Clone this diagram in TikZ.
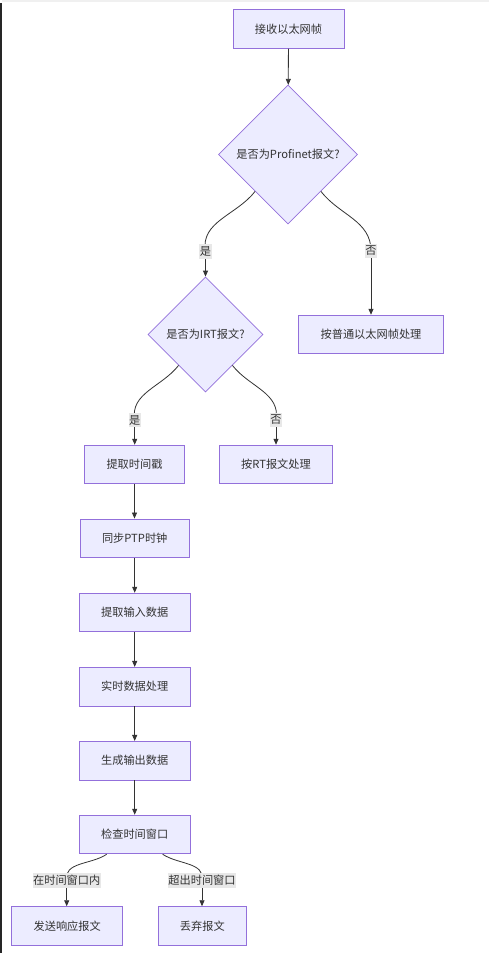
\documentclass[tikz,border=0pt]{standalone}
\usepackage{fontspec}
\setmainfont{Noto Sans CJK SC}
\usetikzlibrary{shapes.geometric,arrows.meta}
\definecolor{nfill}{HTML}{ECECFF}
\definecolor{nline}{HTML}{9370DB}
\definecolor{txt}{HTML}{333333}
\definecolor{lbg}{HTML}{E8E8E8}
\begin{document}
\begin{tikzpicture}[x=1pt,y=1pt,
  every node/.style={font=\fontsize{11.2}{13}\selectfont, text=txt},
  box/.style={draw=nline, fill=nfill, line width=0.8pt, minimum height=38.7pt, inner xsep=22pt, inner ysep=0pt},
  dia/.style={diamond, draw=nline, fill=nfill, line width=0.8pt, aspect=1, inner sep=0pt},
  lbl/.style={fill=lbg, inner xsep=0.5pt, inner ysep=2.5pt},
  arr/.style={draw=txt, line width=0.8pt, -{Triangle[length=6pt,width=5pt]}},
  ln/.style={draw=txt, line width=0.8pt}]
\useasboundingbox (0,0) rectangle (489,-953);
\fill[white] (0,0) rectangle (489,-953);
\fill[black!85] (0,-3) rectangle (2,-953);
\fill[gray!12] (2,0) rectangle (489,-1.5);

\node[box] (n1) at (288.5,-29) {接收以太网帧};
\node[dia, minimum size=139pt] (d1) at (288,-154.5) {是否为Profinet报文?};
\node[box] (n2) at (371,-334.5) {按普通以太网帧处理};
\node[dia, minimum size=115pt] (d2) at (205.5,-334.5) {是否为IRT报文?};
\node[box] (n3) at (134.5,-464.5) {提取时间戳};
\node[box] (n4) at (276,-464.5) {按RT报文处理};
\node[box] (n5) at (134.7,-538.3) {同步PTP时钟};
\node[box] (n6) at (134.7,-612.5) {提取输入数据};
\node[box] (n7) at (134.7,-686.7) {实时数据处理};
\node[box] (n8) at (134.7,-760.7) {生成输出数据};
\node[box] (n9) at (134.7,-834.5) {检查时间窗口};
\node[box] (n10) at (67.2,-926) {发送响应报文};
\node[box] (n11) at (202.3,-926) {丢弃报文};

\coordinate (c1) at (205.5,-251.5);
\coordinate (c2) at (371,-251);
\coordinate (c3) at (134.7,-420);
\coordinate (c4) at (276,-420);
\coordinate (c5) at (66.7,-880.3);
\coordinate (c6) at (202,-880.3);

\draw[arr] (n1) -- (d1);
\draw[ln] ([shift={(2pt,-2pt)}]d1.south west) to[out=-128,in=100] (c1);
\draw[arr] (c1) -- (c1 |- d2.north);
\draw[ln] ([shift={(-2pt,-2pt)}]d1.south east) to[out=-52,in=90] (c2);
\draw[arr] (c2) -- (c2 |- n2.north);
\draw[ln] ([shift={(2pt,-2pt)}]d2.south west) to[out=-128,in=100] (c3);
\draw[arr] (c3) -- (c3 |- n3.north);
\draw[ln] ([shift={(-2pt,-2pt)}]d2.south east) to[out=-52,in=80] (c4);
\draw[arr] (c4) -- (c4 |- n4.north);
\draw[arr] (n3) -- (n3 |- n5.north);
\draw[arr] (n5) -- (n6);
\draw[arr] (n6) -- (n7);
\draw[arr] (n7) -- (n8);
\draw[arr] (n8) -- (n9);
\draw[ln] ([xshift=-28pt]n9.south) to[out=-146,in=100] (c5);
\draw[arr] (c5) -- (c5 |- n10.north);
\draw[ln] ([xshift=28pt]n9.south) to[out=-34,in=80] (c6);
\draw[arr] (c6) -- (c6 |- n11.north);

\node[lbl] (l1) at (c1) {是};
\node[lbl] (l2) at (c2) {否};
\node[lbl] (l3) at (c3) {是};
\node[lbl] (l4) at (c4) {否};
\node[lbl] (l5) at (c5) {在时间窗口内};
\node[lbl] (l6) at (c6) {超出时间窗口};
\end{tikzpicture}
\end{document}
